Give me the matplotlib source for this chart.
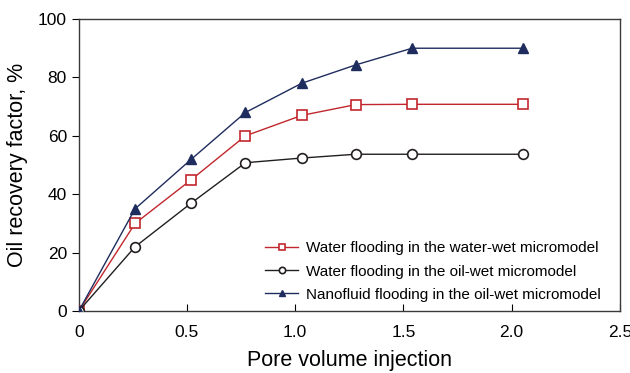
import numpy as np
import matplotlib
matplotlib.use("Agg")
import matplotlib.pyplot as plt

plt.rcParams['font.family'] = ['Liberation Sans', 'DejaVu Sans']

# pore volumes injected
pv = [0, 0.26, 0.52, 0.77, 1.03, 1.28, 1.54, 2.05]

# oil recovery factor, %
water_ww = [0, 30, 45, 60, 67, 70.7, 70.8, 70.8]
water_ow = [0, 22, 37, 50.8, 52.4, 53.7, 53.7, 53.7]
nano_ow = [0, 35, 52, 68, 78, 84.3, 90, 90]

labels = ['Water flooding in the water-wet micromodel',
          'Water flooding in the oil-wet micromodel',
          'Nanofluid flooding in the oil-wet micromodel']

red = '#c1272d'
dark = '#231f20'
navy = '#1f2d5e'

fig = plt.figure(figsize=(6.3, 3.73), dpi=100)
ax = fig.add_axes([0.125, 0.166, 0.859, 0.783])

ax.plot(pv, water_ww, color=red, lw=1.0, marker='s', ms=7,
        mfc='white', mec=red, mew=1.2, label=labels[0], zorder=3)
ax.plot(pv, water_ow, color=dark, lw=1.0, marker='o', ms=7,
        mfc='white', mec=dark, mew=1.2, label=labels[1], zorder=3)
ax.plot(pv, nano_ow, color=navy, lw=1.0, marker='^', ms=7,
        mfc=navy, mec=navy, label=labels[2], zorder=4)

ax.set_xlim(0, 2.5)
ax.set_ylim(0, 100)
ax.set_xticks(np.arange(0, 2.51, 0.5))
ax.set_xticklabels(['0', '0.5', '1.0', '1.5', '2.0', '2.5'])
ax.set_yticks(np.arange(0, 101, 20))

ax.tick_params(axis='x', direction='in', length=5, labelsize=12.5, pad=10)
ax.tick_params(axis='y', direction='out', length=5, labelsize=12.5)

for s in ax.spines.values():
    s.set_color('#3a3a3a')
    s.set_linewidth(1.0)

ax.set_xlabel('Pore volume injection', fontsize=15.5, labelpad=7)
ax.set_ylabel('Oil recovery factor, %', fontsize=15.5, labelpad=7)

leg = ax.legend(loc='lower right', frameon=False, fontsize=11,
                handlelength=2.2, handletextpad=0.5, markerscale=0.65,
                bbox_to_anchor=(0.99, -0.015), labelspacing=0.6)

fig.savefig('out.png', dpi=100)
